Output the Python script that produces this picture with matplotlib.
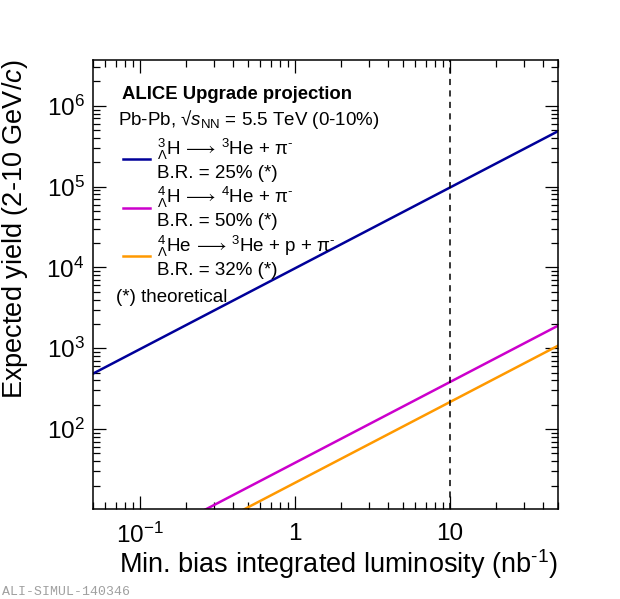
import matplotlib
matplotlib.use("Agg")
import matplotlib.pyplot as plt
from matplotlib.ticker import FixedLocator, LogLocator, NullFormatter, FixedFormatter, LogFormatterSciNotation

plt.rcParams['font.family'] = ['Liberation Sans', 'DejaVu Sans']
plt.rcParams['mathtext.fontset'] = 'custom'
plt.rcParams['mathtext.rm'] = 'Liberation Sans'
plt.rcParams['mathtext.it'] = 'Liberation Sans:italic'
plt.rcParams['mathtext.bf'] = 'Liberation Sans:bold'
plt.rcParams['mathtext.fallback'] = 'stixsans'

# luminosity points (nb^-1) and expected yields
lumi = [0.05, 0.1, 1, 10, 50]
yield_h3l = [485, 970, 9700, 97000, 485000]
yield_h4l = [1.9, 3.8, 38, 380, 1900]
yield_he4l = [1.08, 2.15, 21.5, 215, 1075]
lumi_target = 10

pim = "$\\mathrm{\\pi}^{\\text{-}}$"
labels = [
    "${}^{3}_{\\Lambda}\\mathrm{H}\\,\\longrightarrow\\,{}^{3}\\mathrm{He}$ + " + pim + "\nB.R. = 25% (*)",
    "${}^{4}_{\\Lambda}\\mathrm{H}\\,\\longrightarrow\\,{}^{4}\\mathrm{He}$ + " + pim + "\nB.R. = 50% (*)",
    "${}^{4}_{\\Lambda}\\mathrm{He}\\,\\longrightarrow\\,{}^{3}\\mathrm{He}$ + p + " + pim + "\nB.R. = 32% (*)",
]
colors = ["#000099", "#cc00cc", "#ff9900"]

xticks = [0.1, 1, 10]
xticklabels = ["$10^{-1}$", "1", "10"]
yticks = [1e2, 1e3, 1e4, 1e5, 1e6]

fig = plt.figure(figsize=(6.2, 5.99), dpi=100)
ax = fig.add_axes([0.15, 0.15, 0.75, 0.75])

handles = []
for ys, c, lab in zip([yield_h3l, yield_h4l, yield_he4l], colors, labels):
    h, = ax.plot(lumi, ys, color=c, lw=1.8, label=lab)
    handles.append(h)

ax.axvline(lumi_target, color="black", lw=1.1, ls=(0, (4, 3.5)))

ax.set_xscale("log")
ax.set_yscale("log")
ax.set_xlim(0.05, 50)
ax.set_ylim(10.2, 3.7e6)

ax.xaxis.set_major_locator(FixedLocator(xticks))
ax.xaxis.set_major_formatter(FixedFormatter(xticklabels))
ax.xaxis.set_minor_locator(LogLocator(base=10, subs=range(2, 10)))
ax.xaxis.set_minor_formatter(NullFormatter())
ax.yaxis.set_major_locator(FixedLocator(yticks))
ax.yaxis.set_major_formatter(LogFormatterSciNotation())
ax.yaxis.set_minor_locator(LogLocator(base=10, subs=range(2, 10), numticks=20))
ax.yaxis.set_minor_formatter(NullFormatter())

ax.tick_params(which="both", direction="in", top=True, right=True, width=0.9)
ax.tick_params(which="major", length=9.5, labelsize=17.5)
ax.tick_params(which="minor", length=5)
ax.tick_params(axis="x", which="major", pad=10)
ax.tick_params(axis="y", which="major", pad=6)
for s in ax.spines.values():
    s.set_linewidth(1.1)

ax.set_xlabel("Min. bias integrated luminosity (nb$^{\\text{-1}}$)", fontsize=19.5, loc="right")
ax.xaxis.set_label_coords(1.0, -0.085)
ax.set_ylabel("Expected yield (2-10 GeV/$\\it{c}$)", fontsize=19.5, loc="top")
ax.yaxis.set_label_coords(-0.135, 1.0)

ax.text(0.0624, 0.9125, "ALICE Upgrade projection", transform=ax.transAxes,
        fontsize=13.3, fontweight="bold", va="baseline")
ax.text(0.0544, 0.855, "Pb-Pb, \u221a$\\it{s}_{\\rm NN}$ = 5.5 TeV (0-10%)", transform=ax.transAxes,
        fontsize=13.5, va="baseline")
ax.text(0.050, 0.462, "(*) theoretical", transform=ax.transAxes, fontsize=13.5, va="baseline")

ax.legend(handles=handles, loc="upper left", bbox_to_anchor=(0.065, 0.8285),
          frameon=False, fontsize=13.5, borderpad=0, borderaxespad=0,
          handlelength=1.45, handletextpad=0.36, labelspacing=0.2)

fig.text(0.004, 0.012, "ALI-SIMUL-140346", fontsize=9.5, color="#a0a0a0",
         family="Liberation Mono", va="center")

fig.savefig("out.png", dpi=100)
